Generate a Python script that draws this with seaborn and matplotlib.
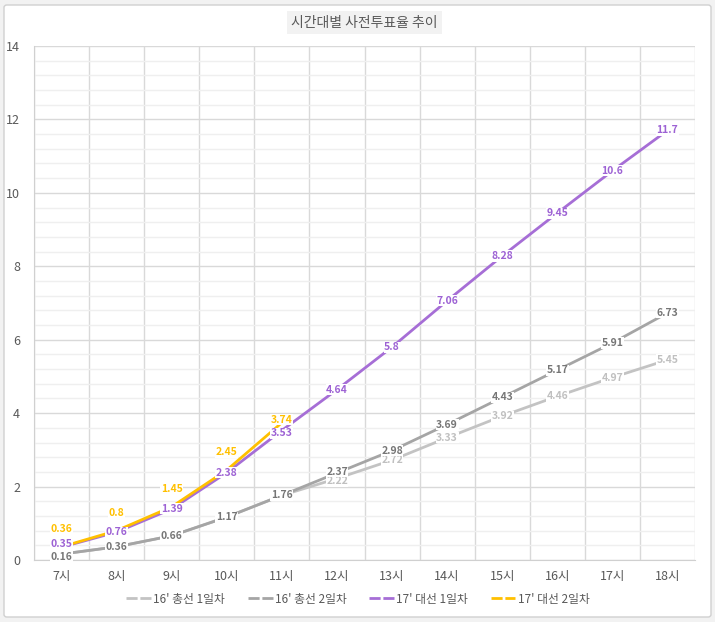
import matplotlib
matplotlib.use("Agg")
import matplotlib.pyplot as plt
import matplotlib.patches as mpatches
from matplotlib.lines import Line2D
from matplotlib.ticker import MultipleLocator
import numpy as np
import pandas as pd
import seaborn as sns

sns.set_style("white")
plt.rcParams['font.family'] = ['Noto Sans CJK KR', 'DejaVu Sans']

hours = ["7시", "8시", "9시", "10시", "11시", "12시", "13시", "14시", "15시", "16시", "17시", "18시"]
s16_day1 = [0.16, 0.36, 0.66, 1.17, 1.76, 2.22, 2.72, 3.33, 3.92, 4.46, 4.97, 5.45]
s16_day2 = [0.16, 0.36, 0.66, 1.17, 1.76, 2.37, 2.98, 3.69, 4.43, 5.17, 5.91, 6.73]
s17_day1 = [0.35, 0.76, 1.39, 2.38, 3.53, 4.64, 5.8, 7.06, 8.28, 9.45, 10.6, 11.7]
s17_day2 = [0.36, 0.8, 1.45, 2.45, 3.74]
series_names = ["16' 총선 1일차", "16' 총선 2일차", "17' 대선 1일차", "17' 대선 2일차"]
title = "시간대별 사전투표율 추이"

line_colors = ["#c3c3c3", "#a5a5a5", "#a66ed6", "#ffc000"]
label_colors = ["#c0c0c0", "#767676", "#9d62d4", "#ffc000"]

all_vals = [s16_day1, s16_day2, s17_day1, s17_day2]
rows = []
for name, vals in zip(series_names, all_vals):
    for i, v in enumerate(vals):
        rows.append({"hour": i, "series": name, "value": v})
df = pd.DataFrame(rows)

fig = plt.figure(figsize=(7.15, 6.22), dpi=100)
fig.patch.set_facecolor("#f2f2f2")
bg = mpatches.FancyBboxPatch((4/715, 5/622), 707/715, 612/622,
                             boxstyle="round,pad=0,rounding_size=0.004",
                             transform=fig.transFigure, facecolor="white",
                             edgecolor="#d0d0d0", linewidth=1, zorder=-5)
fig.patches.append(bg)
ax = fig.add_axes([34/715, 62/622, 661/715, 514/622])
ax.set_facecolor("white")

sns.lineplot(data=df, x="hour", y="value", hue="series", hue_order=series_names,
             palette=dict(zip(series_names, line_colors)), linewidth=2, ax=ax,
             legend=False, sort=False, zorder=3)

ax.set_xlim(-0.5, 11.5)
ax.set_ylim(0, 14)
ax.set_xticks(range(len(hours)))
ax.set_xticklabels(hours)
ax.xaxis.set_minor_locator(MultipleLocator(1, offset=0.5))
ax.yaxis.set_major_locator(MultipleLocator(2))
ax.yaxis.set_minor_locator(MultipleLocator(0.4))
ax.grid(which="major", axis="y", color="#d9d9d9", linewidth=1, zorder=0)
ax.grid(which="minor", axis="y", color="#efefef", linewidth=1, zorder=0)
ax.grid(which="minor", axis="x", color="#d9d9d9", linewidth=1, zorder=0)
ax.grid(which="major", axis="x", visible=False)
ax.set_axisbelow(True)
ax.tick_params(axis="both", which="both", length=0, labelsize=9, colors="#595959", pad=7)
ax.tick_params(axis="y", pad=10)
for s in ["top", "right"]:
    ax.spines[s].set_visible(False)
for s in ["left", "bottom"]:
    ax.spines[s].set_color("#d0d0d0")
ax.set_xlabel("")
ax.set_ylabel("")

def fmt(v):
    return f"{v:g}"

# small nudges (points) to keep crowded labels readable
nudge = {(0, 5): -2, (1, 0): -2, (2, 0): 2, (2, 4): -2, (3, 4): 2, (1, 5): 1}
bbox = dict(boxstyle="square,pad=0.05", facecolor="white", edgecolor="none")
for si in range(4):
    vals = all_vals[si]
    for i, v in enumerate(vals):
        if si == 0 and i < 5:
            continue
        dy = nudge.get((si, i), 0)
        if si == 3 and i < 4:
            dy = 13
        ax.annotate(fmt(v), (i, v), xytext=(0, dy), textcoords="offset points",
                    ha="center", va="center", fontsize=7.5, fontweight="bold",
                    color=label_colors[si], bbox=bbox, zorder=5)

ax.set_title(title, fontsize=10, color="#595959", pad=14,
             bbox=dict(boxstyle="square,pad=0.3", facecolor="#f2f2f2", edgecolor="none"))

handles = [Line2D([0], [0], color=c, linewidth=2, dashes=(4, 1)) for c in line_colors]
fig.legend(handles, series_names, loc="center", bbox_to_anchor=(358/715, 1 - 599/622),
           ncol=4, frameon=False, fontsize=8.5, labelcolor="#595959", handlelength=2.1,
           handletextpad=0.2, columnspacing=1.9)

fig.savefig("out.png", dpi=100, facecolor=fig.get_facecolor())
